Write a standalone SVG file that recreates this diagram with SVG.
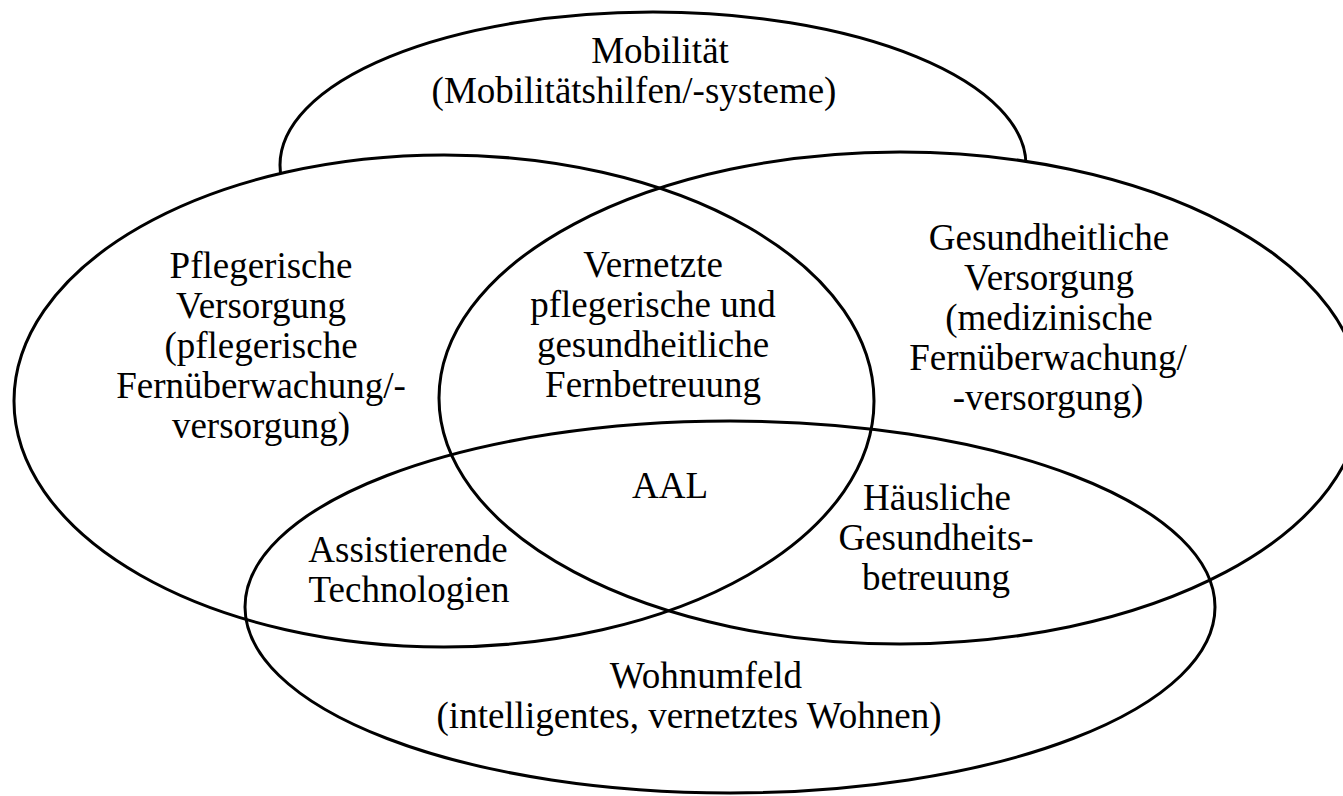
<svg xmlns="http://www.w3.org/2000/svg" width="1343" height="796" viewBox="0 0 1343 796">
  <style>
    .ring { fill: none; stroke: #000; stroke-width: 3; }
    .mask { fill: #fff; stroke: none; }
    .lbl { font-family: "Liberation Serif", "Times New Roman", serif; font-size: 37px; fill: #000; text-anchor: middle; }
  </style>
  <defs>
    <ellipse id="e-left" cx="444" cy="401" rx="430" ry="246"/>
    <ellipse id="e-right" cx="900" cy="398" rx="461" ry="246"/>
    <ellipse id="e-bottom" cx="730" cy="607" rx="485" ry="186"/>
  </defs>
  <rect width="1343" height="796" fill="#fff"/>

  <!-- Mobility ring sits behind the others; only its upper arc shows -->
  <g id="mobilitaet">
    <ellipse cx="653" cy="165" rx="373" ry="153" fill="#fff" stroke="#000" stroke-width="3"/>
  </g>

  <!-- white interiors covering the lower half of the mobility ring -->
  <g id="interiors">
    <use href="#e-left" class="mask"/>
    <use href="#e-right" class="mask"/>
    <use href="#e-bottom" class="mask"/>
  </g>

  <g id="pflege">
    <use href="#e-left" class="ring"/>
  </g>
  <g id="gesundheit">
    <use href="#e-right" class="ring"/>
  </g>
  <g id="wohnumfeld">
    <use href="#e-bottom" class="ring"/>
  </g>

  <g id="labels">
    <text class="lbl" x="660" y="63">Mobilität</text>
    <text class="lbl" x="634" y="103">(Mobilitätshilfen/-systeme)</text>

    <text class="lbl" x="261" y="278">Pflegerische</text>
    <text class="lbl" x="261" y="318">Versorgung</text>
    <text class="lbl" x="261" y="358">(pflegerische</text>
    <text class="lbl" x="261" y="398">Fernüberwachung/-</text>
    <text class="lbl" x="261" y="438">versorgung)</text>

    <text class="lbl" x="1049" y="250">Gesundheitliche</text>
    <text class="lbl" x="1049" y="290">Versorgung</text>
    <text class="lbl" x="1049" y="330">(medizinische</text>
    <text class="lbl" x="1048" y="370">Fernüberwachung/</text>
    <text class="lbl" x="1048" y="410">-versorgung)</text>

    <text class="lbl" x="653" y="277">Vernetzte</text>
    <text class="lbl" x="653" y="317">pflegerische und</text>
    <text class="lbl" x="653" y="357">gesundheitliche</text>
    <text class="lbl" x="653" y="397">Fernbetreuung</text>

    <text class="lbl" x="670" y="498">AAL</text>

    <text class="lbl" x="408" y="562">Assistierende</text>
    <text class="lbl" x="409" y="602">Technologien</text>

    <text class="lbl" x="937" y="510">Häusliche</text>
    <text class="lbl" x="936" y="550">Gesundheits-</text>
    <text class="lbl" x="936" y="590">betreuung</text>

    <text class="lbl" x="706" y="688">Wohnumfeld</text>
    <text class="lbl" x="689" y="728">(intelligentes, vernetztes Wohnen)</text>
  </g>
</svg>
